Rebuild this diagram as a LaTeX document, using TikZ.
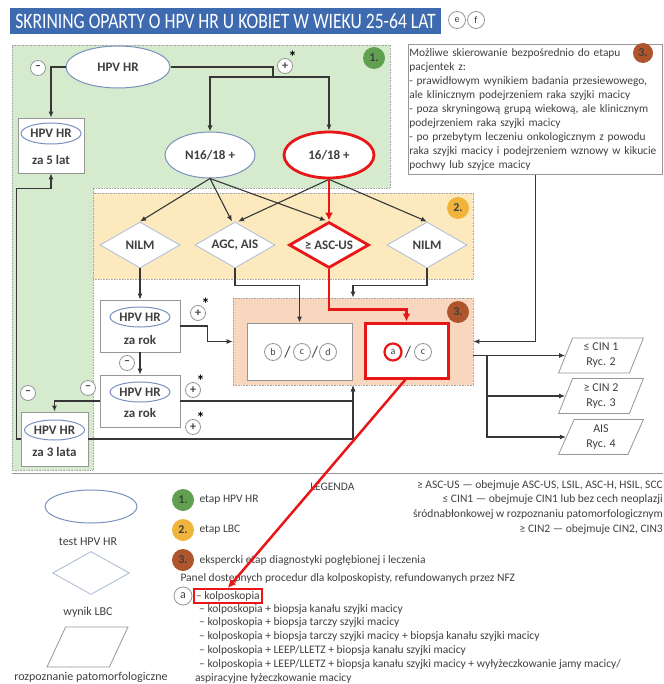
\documentclass[tikz,border=0pt]{standalone}
\usepackage{graphicx}
\usepackage{fontspec}
\setmainfont{Carlito}
\usetikzlibrary{shapes.geometric,arrows.meta,positioning}
\definecolor{titleblue}{RGB}{62,106,176}
\definecolor{stagegreen}{RGB}{96,160,80}
\definecolor{stageyellow}{RGB}{240,180,60}
\definecolor{stagebrown}{RGB}{175,85,45}
\definecolor{greenbg}{RGB}{214,234,206}
\definecolor{yellowbg}{RGB}{252,234,190}
\definecolor{peachbg}{RGB}{249,215,190}
\definecolor{hpvblue}{RGB}{120,145,190}
\definecolor{lbcblue}{RGB}{178,192,216}
\definecolor{boxgray}{RGB}{150,150,150}
\definecolor{hotred}{RGB}{232,22,22}
\definecolor{wiregray}{RGB}{55,55,55}
\definecolor{labgray}{RGB}{64,64,64}

\begin{document}
\begin{tikzpicture}[x=1pt, y=-1pt,
        every node/.style={text=labgray},
        lab/.style={font=\fontsize{13}{15}\selectfont\bfseries},
        txt/.style={font=\fontsize{11.5}{13.8}\selectfont},
        test/.style={ellipse, draw=hpvblue, line width=1pt, fill=white, inner sep=0pt, lab},
        result/.style={diamond, aspect=1.74, draw=lbcblue, line width=0.9pt, fill=white,
            minimum width=80, minimum height=46, inner sep=0pt, lab},
        resbox/.style={rectangle, draw=boxgray, line width=0.8pt, fill=white},
        diag/.style={trapezium, trapezium left angle=71, trapezium right angle=109,
            trapezium stretches=true, draw=boxgray, line width=0.8pt, fill=white,
            minimum width=85, minimum height=35, inner sep=0pt, align=center,
            font=\fontsize{12}{15}\selectfont},
        panel/.style={rectangle, draw=gray!70, densely dotted, line width=0.6pt},
        stage/.style={circle, inner sep=0pt, minimum size=22, text=black!75,
            font=\fontsize{12}{12}\selectfont\bfseries},
        sign/.style={circle, draw=boxgray, line width=0.8pt, fill=white, inner sep=0pt,
            minimum size=15, font=\fontsize{12}{12}\selectfont\bfseries},
        plus/.style={sign, label={[label distance=-3pt, inner sep=0pt, text=black,
            font=\fontsize{16}{16}\selectfont\bfseries]45:*}},
        proc/.style={circle, draw=boxgray, line width=0.8pt, fill=white, inner sep=0pt,
            minimum size=17, font=\fontsize{10}{10}\selectfont},
        slash/.style={font=\fontsize{16}{16}\selectfont, inner sep=0pt},
        wire/.style={draw=wiregray, line width=1.1pt},
        flow/.style={wire, -{Latex[length=6pt, width=5pt]}},
        hotflow/.style={draw=hotred, line width=2.5pt, -{Latex[length=8pt, width=8pt]}}]
    \useasboundingbox (0,0) rectangle (663,684);

    \fill[greenbg] (12,45) -- (390,45) -- (390,188) -- (93,188) -- (93,470) -- (12,470) -- cycle;
    \draw[gray!70, densely dotted, line width=0.6pt]
        (12,45) -- (390,45) -- (390,188) -- (93,188) -- (93,470) -- (12,470) -- cycle;
    \node[panel, fill=yellowbg, minimum width=380, minimum height=86] (panel2) at (283,236) {};
    \node[panel, fill=peachbg, minimum width=240, minimum height=87] (panel3) at (353,341.5) {};

    \node[fill=titleblue, text=white, minimum width=431, minimum height=26, inner sep=0pt,
        font=\fontsize{22}{22}\selectfont] (title) at (225.5,21)
        {\scalebox{0.8}[1]{SKRINING OPARTY O HPV HR U KOBIET W WIEKU 25-64 LAT}};
    \node[proc] (e) at (457,20) {e};
    \node[proc] (f) at (476,20) {f};

    \node[stage, fill=stagegreen] (st1) at (374,58) {1.};
    \node[stage, fill=stageyellow] (st2) at (458,208) {2.};
    \node[stage, fill=stagebrown] (st3) at (458,312) {3.};

    \node[test, minimum width=104, minimum height=42] (hpv) at (118,67) {HPV HR};
    \node[sign] (neg0) at (38,68) {–};
    \node[plus] (pos0) at (285,66) {+};
    \node[test, minimum width=90, minimum height=46] (n16) at (210,155) {N16/18 +};
    \node[test, minimum width=90, minimum height=46, draw=hotred, line width=2.8pt] (p16) at (329,155) {16/18 +};

    \node[resbox, minimum width=66, minimum height=55] (five) at (51,145.5) {};
    \node[test, minimum width=60, minimum height=21] (five-t) at ([yshift=12pt]five.center) {HPV HR};
    \node[lab] (five-z) at ([yshift=-14.5pt]five.center) {za 5 lat};

    \node[result] (nilm1) at (140,245) {NILM};
    \node[result] (agc) at (235,245) {AGC, AIS};
    \node[result, draw=hotred, line width=2.8pt] (asc) at (329,245) {≥ ASC-US};
    \node[result] (nilm2) at (427,245) {NILM};

    \node[resbox, minimum width=80, minimum height=52] (rok1) at (140,326) {};
    \node[test, minimum width=60, minimum height=20] (rok1-t) at ([yshift=9pt]rok1.center) {HPV HR};
    \node[lab] (rok1-z) at ([yshift=-14pt]rok1.center) {za rok};
    \node[resbox, minimum width=80, minimum height=52] (rok2) at (140,401) {};
    \node[test, minimum width=60, minimum height=20] (rok2-t) at ([yshift=9pt]rok2.center) {HPV HR};
    \node[lab] (rok2-z) at ([yshift=-12pt]rok2.center) {za rok};
    \node[resbox, minimum width=67, minimum height=54] (za3) at (54.5,439) {};
    \node[test, minimum width=60, minimum height=20] (za3-t) at ([yshift=9pt]za3.center) {HPV HR};
    \node[lab] (za3-z) at ([yshift=-13pt]za3.center) {za 3 lata};

    \node[plus] (pos1) at (198,313) {+};
    \node[sign] (neg1) at (127,363) {–};
    \node[sign] (neg2) at (88,388) {–};
    \node[sign] (neg3) at (28,393) {–};
    \node[plus] (pos2) at (193,390) {+};
    \node[plus] (pos3) at (193,427) {+};

    \node[resbox, minimum width=105, minimum height=57] (bcd) at (299.5,351.5) {};
    \node[proc] (pb) at (273,352) {b};
    \node[slash] (sl1) at (287.5,352) {/};
    \node[proc] (pc) at (302,352) {c};
    \node[slash] (sl2) at (315,352) {/};
    \node[proc] (pd) at (328,352) {d};
    \node[resbox, draw=hotred, line width=3pt, minimum width=83, minimum height=55] (ac) at (406.5,350.5) {};
    \node[proc, draw=hotred, line width=2.2pt] (pa) at (393,352) {a};
    \node[slash] (sl3) at (408,352) {/};
    \node[proc] (pc2) at (423,352) {c};

    \node[resbox, anchor=north west, text width=252, inner xsep=1pt, inner ysep=4pt, align=left,
        font=\fontsize{11.4}{14}\selectfont] (note) at (408,44)
        {Możliwe skierowanie bezpośrednio do etapu\\
         pacjentek z:\\
         - prawidłowym wynikiem badania przesiewowego,\\
         ale klinicznym podejrzeniem raka szyjki macicy\\
         - poza skryningową grupą wiekową, ale klinicznym\\
         podejrzeniem raka szyjki macicy\\
         - po przebytym leczeniu onkologicznym z powodu\\
         raka szyjki macicy i podejrzeniem wznowy w kikucie\\
         pochwy lub szyjce macicy};
    \node[stage, fill=stagebrown, minimum size=20] (st3b) at (643,53) {3.};

    \node[diag] (cin1) at (601,355.5) {≤ CIN 1\\Ryc. 2};
    \node[diag] (cin2) at (601,396) {≥ CIN 2\\Ryc. 3};
    \node[diag] (ais) at (601,437) {AIS\\Ryc. 4};

    \draw[flow] (hpv.west) -| (five.north);
    \coordinate (split) at (273,77);
    \draw[wire] (hpv.east) -| (split);
    \draw[flow] (split) -| (n16.north);
    \draw[flow] (split) -| (p16.north);
    \draw[flow] (n16.south) -- (nilm1.north);
    \draw[flow] (n16.south) -- ([xshift=-3pt]agc.north);
    \draw[flow] (n16.south) -- ([xshift=-3pt]asc.north);
    \draw[flow] (p16.south) -- ([xshift=3pt]agc.north);
    \draw[flow] (p16.south) -- (nilm2.north);
    \draw[flow] (nilm1.south) -- (rok1.north);
    \draw[flow] (agc.south) -- ++(0,17) -| (bcd.north);
    \draw[flow] (nilm2.south) -- ++(0,17) -| (panel3.north);
    \draw[flow] (rok1.east) -- ++(27,0) |- (panel3.west);
    \draw[flow] (rok1.south) -- (rok2.north);
    \draw[flow] (rok2.west) -| (za3.north);
    \draw[flow] (rok2.east) -| (panel3.south);
    \draw[flow] (za3.east) -| (panel3.south);
    \draw[flow] (za3.west) -- ++(-4,0) |- ([yshift=-15pt]five.south) -- (five.south);
    \draw[flow] (note.south) |- (panel3.east);
    \coordinate (fork) at (487,355.5);
    \draw[flow] (panel3.east |- cin1.west) -- (cin1.west);
    \draw[flow] (fork) |- (cin2.west);
    \draw[flow] (fork) |- (ais.west);
    \draw[hotflow] (p16.south) -- (asc.north);
    \draw[hotflow] (asc.south) -- ++(0,40) -| (ac.north);

    \draw[boxgray, line width=1pt] (12,473) -- (663,473);

    \node[test, minimum width=92, minimum height=33] (lgtest) at (91,506.5) {};
    \node[font=\fontsize{12}{14}\selectfont] (lgtest-t) at (88,542) {test HPV HR};
    \node[result, minimum width=77, minimum height=43] (lglbc) at (91,573) {};
    \node[font=\fontsize{12}{14}\selectfont] (lglbc-t) at (88,612) {wynik LBC};
    \node[diag, minimum width=81, minimum height=40] (lgdiag) at (87.5,647) {\phantom{X}};
    \node[font=\fontsize{12}{14}\selectfont] (lgdiag-t) at (91,677) {rozpoznanie patomorfologiczne};

    \node[txt, anchor=east] (legend) at (358,487) {LEGENDA};
    \node[txt, anchor=north east, align=right, inner sep=0pt, font=\fontsize{11.5}{14.8}\selectfont] (defs) at (663,480)
        {≥ ASC-US — obejmuje ASC-US, LSIL, ASC-H, HSIL, SCC\\
         ≤ CIN1 — obejmuje CIN1 lub bez cech neoplazji\\
         śródnabłonkowej w rozpoznaniu patomorfologicznym\\
         ≥ CIN2 — obejmuje CIN2, CIN3};

    \node[stage, fill=stagegreen] (lg1) at (183,500) {1.};
    \node[txt, anchor=west] (lg1-t) at (196,500) {etap HPV HR};
    \node[stage, fill=stageyellow] (lg2) at (183,530) {2.};
    \node[txt, anchor=west] (lg2-t) at (196,530) {etap LBC};
    \node[stage, fill=stagebrown] (lg3) at (183,560) {3.};
    \node[txt, anchor=west] (lg3-t) at (196,560) {ekspercki etap diagnostyki pogłębionej i leczenia};
    \node[txt, anchor=west] (panel-t) at (177,578) {Panel dostępnych procedur dla kolposkopisty, refundowanych przez NFZ};
    \node[proc, minimum size=18, font=\fontsize{12}{12}\selectfont] (lga) at (183,596) {a};
    \node[txt, draw=hotred, line width=2.2pt, anchor=west, inner sep=2pt] (kolpo) at (193,596) {– kolposkopia};
    \node[txt, anchor=north west, align=left, inner sep=0pt] (list) at (199,604)
        {– kolposkopia + biopsja kanału szyjki macicy\\
         – kolposkopia + biopsja tarczy szyjki macicy\\
         – kolposkopia + biopsja tarczy szyjki macicy + biopsja kanału szyjki macicy\\
         – kolposkopia + LEEP/LLETZ + biopsja kanału szyjki macicy\\
         – kolposkopia + LEEP/LLETZ + biopsja kanału szyjki macicy + wyłyżeczkowanie jamy macicy/\\
         \hspace*{-4pt}aspiracyjne łyżeczkowanie macicy};

    \draw[hotflow] ([xshift=-1pt]ac.south) -- (kolpo.north);
\end{tikzpicture}
\end{document}
